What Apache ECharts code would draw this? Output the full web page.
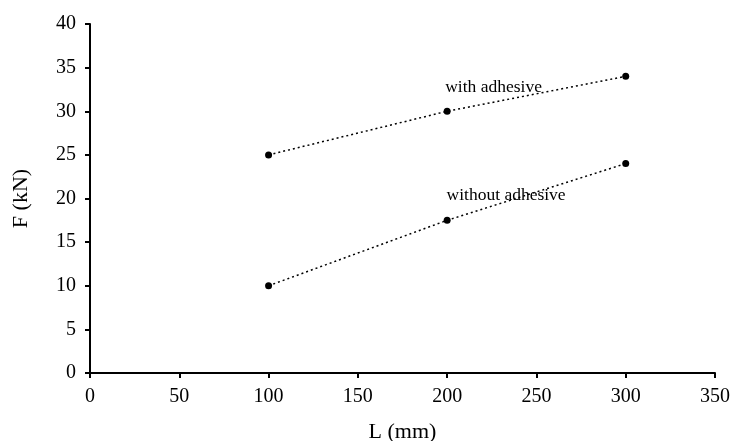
<!DOCTYPE html>
<html>
<head>
<meta charset="utf-8">
<script src="https://cdn.jsdelivr.net/npm/echarts@6/dist/echarts.min.js"></script>
<style>html,body{margin:0;padding:0;background:#fff}#c{width:734px;height:441px}</style>
</head>
<body>
<div id="c"></div>
<script>
var lengths = [100, 200, 300];
var withAdhesive = [25, 30, 34];
var withoutAdhesive = [10, 17.5, 24];
var seriesNames = ['with adhesive', 'without adhesive'];
var labelX = [226, 233];
var labelY = [32.7, 20.4];

var FONT = '"Liberation Serif", "DejaVu Serif", serif';
function pairs(xs, ys){ return xs.map(function(x,i){ return [x, ys[i]]; }); }
function mkSeries(idx, vals){
  return {
    name: seriesNames[idx],
    type: 'line',
    data: pairs(lengths, vals),
    symbol: 'circle',
    symbolSize: 7,
    itemStyle: {color: '#000'},
    lineStyle: {color: '#000', width: 1.5, type: [2, 3]},
    markPoint: {
      symbol: 'circle', symbolSize: 0,
      data: [{coord: [labelX[idx], labelY[idx]], value: seriesNames[idx]}],
      label: {show: true, position: 'inside', formatter: seriesNames[idx],
        color: '#000', fontFamily: FONT, fontSize: 17.5}
    }
  };
}
var chart = echarts.init(document.getElementById('c'));
chart.setOption({
  animation: false,
  backgroundColor: '#fff',
  grid: {left: 90, right: 19, top: 24, bottom: 68, containLabel: false, outerBoundsMode: 'none'},
  xAxis: {
    type: 'value', min: 0, max: 350, interval: 50,
    name: 'L (mm)', nameLocation: 'middle', nameGap: 48,
    nameTextStyle: {color: '#000', fontFamily: FONT, fontSize: 22},
    axisLine: {show: true, onZero: false, lineStyle: {color: '#000', width: 2}},
    axisTick: {show: true, length: 5, lineStyle: {color: '#000', width: 2}},
    axisLabel: {color: '#000', fontFamily: FONT, fontSize: 20, margin: 14},
    splitLine: {show: false}
  },
  yAxis: {
    type: 'value', min: 0, max: 40, interval: 5,
    name: 'F (kN)', nameLocation: 'middle', nameGap: 58,
    nameTextStyle: {color: '#000', fontFamily: FONT, fontSize: 22},
    axisLine: {show: true, onZero: false, lineStyle: {color: '#000', width: 2}},
    axisTick: {show: true, length: 5, lineStyle: {color: '#000', width: 2}},
    axisLabel: {color: '#000', fontFamily: FONT, fontSize: 20, margin: 14},
    splitLine: {show: false}
  },
  series: [mkSeries(0, withAdhesive), mkSeries(1, withoutAdhesive)]
});
</script>
</body>
</html>
